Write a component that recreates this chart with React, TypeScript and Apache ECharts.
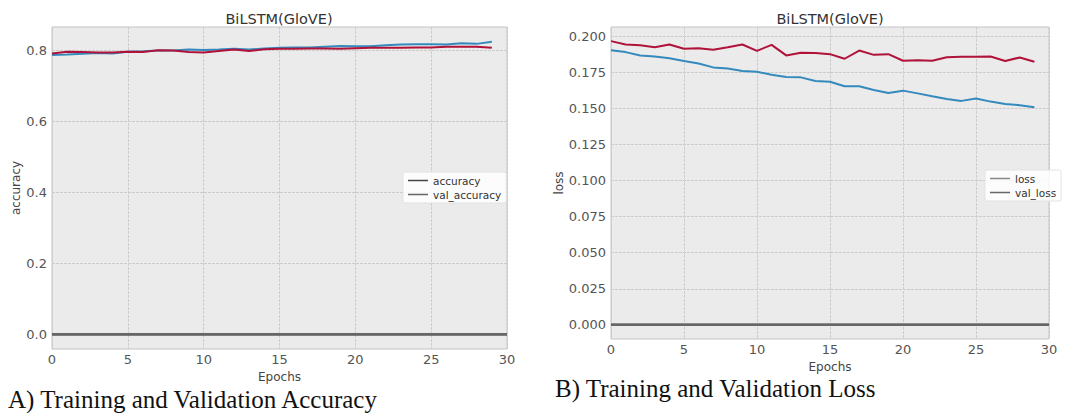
import React, { useEffect, useRef } from "react";
import * as echarts from "echarts";

// ---- data ----
const epochs = [0, 1, 2, 3, 4, 5, 6, 7, 8, 9, 10, 11, 12, 13, 14, 15, 16, 17, 18, 19, 20, 21, 22, 23, 24, 25, 26, 27, 28, 29];
const accuracyTrain = [0.787, 0.788, 0.790, 0.792, 0.791, 0.796, 0.797, 0.799, 0.799, 0.802, 0.801, 0.802, 0.804, 0.802, 0.805, 0.807, 0.808, 0.808, 0.810, 0.812, 0.811, 0.811, 0.814, 0.816, 0.817, 0.817, 0.816, 0.820, 0.818, 0.824];
const accuracyVal = [0.791, 0.796, 0.795, 0.794, 0.794, 0.796, 0.795, 0.800, 0.799, 0.795, 0.794, 0.798, 0.802, 0.798, 0.803, 0.804, 0.804, 0.805, 0.805, 0.804, 0.806, 0.807, 0.807, 0.807, 0.808, 0.808, 0.810, 0.810, 0.810, 0.807];
const lossTrain = [0.1903, 0.189, 0.1867, 0.186, 0.1848, 0.1828, 0.1811, 0.1784, 0.1777, 0.1759, 0.1754, 0.1733, 0.1717, 0.1715, 0.169, 0.1685, 0.1653, 0.1653, 0.1627, 0.1607, 0.1623, 0.1604, 0.1584, 0.1565, 0.1552, 0.1568, 0.1547, 0.1531, 0.1522, 0.1508];
const lossVal = [0.1966, 0.1943, 0.1938, 0.1924, 0.1943, 0.1913, 0.1917, 0.1906, 0.1924, 0.1943, 0.1899, 0.194, 0.1867, 0.1885, 0.1883, 0.1876, 0.1844, 0.1901, 0.1871, 0.1876, 0.183, 0.1834, 0.183, 0.1855, 0.1857, 0.1857, 0.186, 0.1828, 0.1853, 0.1823];
const zeroLine = [[0, 0], [30, 0]];
const accTicks = [0, 0.2, 0.4, 0.6, 0.8];
const lossTicks = [0, 0.025, 0.05, 0.075, 0.1, 0.125, 0.15, 0.175, 0.2];
const chartTitle = "BiLSTM(GloVE)";
const captionA = "A) Training and Validation Accuracy";
const captionB = "B) Training and Validation Loss";

const BLUE = "#348ABD";
const RED = "#B01239";
const FONT = "DejaVu Sans";

const pair = (ys: number[]) => ys.map((y, i) => [epochs[i], y]);

function xAxis(gridIndex: number, nameGap: number) {
  return {
    type: "value",
    gridIndex,
    min: 0,
    max: 30,
    interval: 5,
    name: "Epochs",
    nameLocation: "middle",
    nameGap,
    nameTextStyle: { fontFamily: FONT, fontSize: 12, color: "#444" },
    axisLine: { show: false },
    axisTick: { show: false },
    axisLabel: { fontFamily: FONT, fontSize: 13, color: "#555", margin: 4, showMaxLabel: true },
    splitLine: { show: true, lineStyle: { color: "#cccccc", width: 1, type: [3, 1] } },
  };
}

function yAxis(gridIndex: number, name: string, min: number, max: number, ticks: number[], decimals: number, nameGap: number) {
  return {
    type: "value",
    gridIndex,
    min,
    max,
    name,
    nameLocation: "middle",
    nameGap,
    nameRotate: 90,
    nameTextStyle: { fontFamily: FONT, fontSize: 12, color: "#444" },
    axisLine: { show: false },
    axisTick: { show: false, customValues: ticks },
    axisLabel: {
      customValues: ticks,
      fontFamily: FONT,
      fontSize: 13,
      color: "#555",
      margin: 5,
      formatter: (v: number) => v.toFixed(decimals),
    },
    splitLine: { show: true, customValues: ticks, lineStyle: { color: "#cccccc", width: 1, type: [3, 1] } },
  };
}

export default function App() {
  const ref = useRef<HTMLDivElement>(null);
  useEffect(() => {
    if (!ref.current) return;
    const chart = echarts.init(ref.current, null, { renderer: "svg" });
    const legendCommon = {
      orient: "vertical",
      backgroundColor: "rgba(255,255,255,0.85)",
      borderColor: "#e2e2e2",
      borderWidth: 1,
      borderRadius: 2,
      padding: [3, 5, 3, 5],
      itemGap: 3,
      itemWidth: 20,
      itemHeight: 1.5,
      icon: "rect",
      textStyle: { fontFamily: FONT, fontSize: 10.5, color: "#333" },
    };
    chart.setOption({
      animation: false,
      backgroundColor: "#ffffff",
      title: [
        { text: chartTitle, left: 279, top: 11, textAlign: "center", padding: 0, textStyle: { fontFamily: FONT, fontSize: 14.5, fontWeight: "normal", color: "#333" } },
        { text: chartTitle, left: 830, top: 11, textAlign: "center", padding: 0, textStyle: { fontFamily: FONT, fontSize: 14.5, fontWeight: "normal", color: "#333" } },
      ],
      legend: [
        { ...legendCommon, data: ["accuracy", "val_accuracy"], left: 403, top: 172 },
        { ...legendCommon, data: ["loss", "val_loss"], left: 985, top: 170 },
      ],
      grid: [
        { left: 52, top: 27, width: 455, height: 322, show: true, backgroundColor: "#ebebeb", borderColor: "#c4c4c4", borderWidth: 1 },
        { left: 611, top: 27, width: 438, height: 312, show: true, backgroundColor: "#ebebeb", borderColor: "#c4c4c4", borderWidth: 1 },
      ],
      xAxis: [xAxis(0, 19), xAxis(1, 18)],
      yAxis: [
        yAxis(0, "accuracy", -0.0412, 0.8655, accTicks, 1, 29),
        yAxis(1, "loss", -0.0098, 0.2064, lossTicks, 3, 33),
      ],
      series: [
        { name: "accuracy", type: "line", xAxisIndex: 0, yAxisIndex: 0, data: zeroLine, showSymbol: false, lineStyle: { color: "#444", width: 2.5 }, itemStyle: { color: "#444" } },
        { name: "val_accuracy", type: "line", xAxisIndex: 0, yAxisIndex: 0, data: zeroLine, showSymbol: false, lineStyle: { color: "#666", width: 2.5 }, itemStyle: { color: "#666" } },
        { name: "acc_train", type: "line", xAxisIndex: 0, yAxisIndex: 0, data: pair(accuracyTrain), showSymbol: false, lineStyle: { color: BLUE, width: 2 }, itemStyle: { color: BLUE } },
        { name: "acc_val", type: "line", xAxisIndex: 0, yAxisIndex: 0, data: pair(accuracyVal), showSymbol: false, lineStyle: { color: RED, width: 2 }, itemStyle: { color: RED } },
        { name: "loss", type: "line", xAxisIndex: 1, yAxisIndex: 1, data: zeroLine, showSymbol: false, lineStyle: { color: "#777", width: 2.5 }, itemStyle: { color: "#888" } },
        { name: "val_loss", type: "line", xAxisIndex: 1, yAxisIndex: 1, data: zeroLine, showSymbol: false, lineStyle: { color: "#666", width: 2.5 }, itemStyle: { color: "#666" } },
        { name: "loss_train", type: "line", xAxisIndex: 1, yAxisIndex: 1, data: pair(lossTrain), showSymbol: false, lineStyle: { color: BLUE, width: 2 }, itemStyle: { color: BLUE } },
        { name: "loss_val", type: "line", xAxisIndex: 1, yAxisIndex: 1, data: pair(lossVal), showSymbol: false, lineStyle: { color: RED, width: 2 }, itemStyle: { color: RED } },
      ],
      graphic: [
        { type: "text", left: 8, top: 387, style: { text: captionA, fontFamily: "Liberation Serif", fontSize: 25, fill: "#111" } },
        { type: "text", left: 555, top: 376, style: { text: captionB, fontFamily: "Liberation Serif", fontSize: 25, fill: "#111" } },
      ],
    });
    return () => chart.dispose();
  }, []);
  return <div ref={ref} style={{ position: "fixed", left: 0, top: 0, width: 1065, height: 413 }} />;
}
